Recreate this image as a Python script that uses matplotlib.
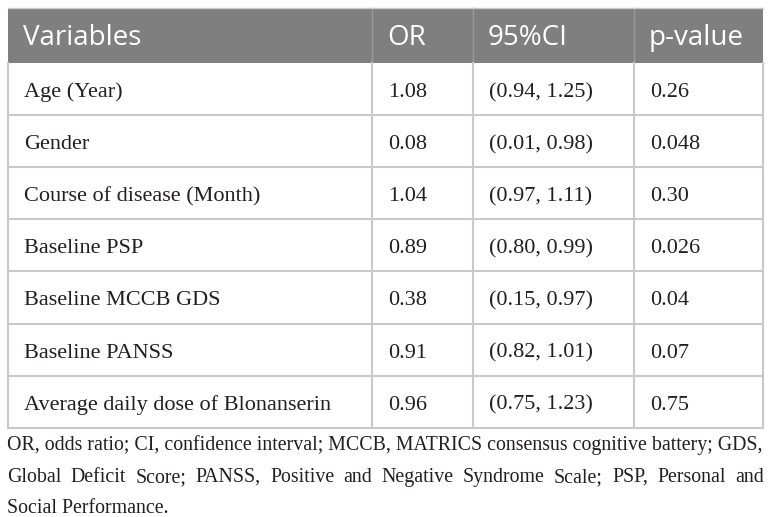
import matplotlib
matplotlib.use('Agg')
import matplotlib.pyplot as plt
from matplotlib.patches import Rectangle

# table content
headers = ['Variables', 'OR', '95%CI', 'p-value']
variables = ['Age (Year)', 'Gender', 'Course of disease (Month)', 'Baseline PSP',
             'Baseline MCCB GDS', 'Baseline PANSS', 'Average daily dose of Blonanserin']
odds_ratio = ['1.08', '0.08', '1.04', '0.89', '0.38', '0.91', '0.96']
ci95 = ['(0.94, 1.25)', '(0.01, 0.98)', '(0.97, 1.11)', '(0.80, 0.99)',
        '(0.15, 0.97)', '(0.82, 1.01)', '(0.75, 1.23)']
p_values = ['0.26', '0.048', '0.30', '0.026', '0.04', '0.07', '0.75']
footnote = [
    'OR, odds ratio; CI, confidence interval; MCCB, MATRICS consensus cognitive battery; GDS,',
    'Global Deficit Score; PANSS, Positive and Negative Syndrome Scale; PSP, Personal and',
    'Social Performance.',
]

W, H = 772, 517
fig = plt.figure(figsize=(W / 100, H / 100), dpi=100)
ax = fig.add_axes([0, 0, 1, 1])
ax.set_xlim(0, W)
ax.set_ylim(H, 0)
ax.axis('off')

# layout in pixels
left, right = 8, 763
col_edges = [left, 372, 473, 634, right]
top, head_bot = 8, 63
row_h = 52.1
n = len(variables)
bottom = head_bot + n * row_h
grid = '#c9c9c9'
ink = '#231f20'
serif = ['Liberation Serif', 'DejaVu Serif']
sans = ['Open Sans', 'DejaVu Sans']
body_size = 16

# header
ax.add_patch(Rectangle((left, top), right - left, head_bot - top, color='#7f7f7f', lw=0))
for i, h in enumerate(headers):
    ax.text(col_edges[i] + 15, 45, h, color='white', fontsize=20,
            family=sans, va='baseline', ha='left')
for x in col_edges[1:-1]:
    ax.plot([x, x], [top, head_bot], color='#9a9a9a', lw=1)

# body
columns = [variables, odds_ratio, ci95, p_values]
for r in range(n):
    yc = head_bot + (r + 0.5) * row_h
    for c, col in enumerate(columns):
        ax.text(col_edges[c] + 16, yc + 8, col[r], color=ink, fontsize=body_size,
                family=serif, va='baseline', ha='left')
    y = head_bot + (r + 1) * row_h
    ax.plot([left, right], [y, y], color=grid, lw=1.5)
for x in col_edges:
    ax.plot([x, x], [head_bot, bottom], color=grid, lw=1.5)
ax.plot([left, right], [top, top], color=grid, lw=1)

# footnote: first line sized to span the width, second line justified by words
fig.canvas.draw()
renderer = fig.canvas.get_renderer()


def text_width(s, size):
    t = ax.text(0, 0, s, fontsize=size, family=serif)
    w = t.get_window_extent(renderer).width
    t.remove()
    return w


line_y = [450, 482, 513]
x0, x1 = 7, 764
note_size = 15 * (x1 - x0) / text_width(footnote[0], 15)

ax.text(x0, line_y[0], footnote[0], fontsize=note_size, family=serif, color=ink,
        va='baseline', ha='left')

words = footnote[1].split(' ')
widths = [text_width(w, note_size) for w in words]
gap = (x1 - x0 - sum(widths)) / (len(words) - 1)
x = x0
for w, wd in zip(words, widths):
    ax.text(x, line_y[1], w, fontsize=note_size, family=serif, color=ink,
            va='baseline', ha='left')
    x += wd + gap

ax.text(x0, line_y[2], footnote[2], fontsize=note_size, family=serif, color=ink,
        va='baseline', ha='left')

fig.savefig('out.png', dpi=100)
plt.close(fig)
